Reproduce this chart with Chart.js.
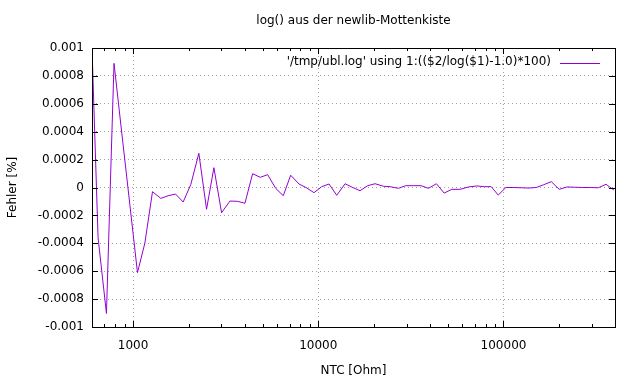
<!DOCTYPE html>
<html lang="de">
<head>
    <meta charset="UTF-8">
    <title>log() aus der newlib-Mottenkiste</title>
    <script src="https://cdn.jsdelivr.net/npm/chart.js"></script>
    <style>
        body { margin: 0; background: #fff; }
        canvas { display: block; }
    </style>
</head>
<body>
<canvas id="chart" width="632" height="378"></canvas>
<script>
const ntcOhm = [600, 647, 718, 789, 869, 960, 1056, 1157, 1273, 1411,
    1546, 1695, 1864, 2051, 2265, 2493, 2731, 3005, 3332, 3650,
    4017, 4420, 4859, 5327, 5886, 6469, 7094, 7866, 8582, 9480,
    10433, 11425, 12578, 13944, 15346, 16806, 18493, 20255, 22458, 24414,
    27063, 29680, 32624, 35914, 39319, 43430, 47808, 52608, 58318, 64696,
    71818, 79152, 85817, 93633, 103040, 113530, 124640, 136850, 150270, 164960,
    181060, 200010, 220140, 242640, 266390, 294190, 325080, 357700, 394200];

const fehlerProzent = [0.001, -0.00036, -0.000903, 0.00089, 0.00039, -0.00012, -0.00061, -0.0004, -0.00003, -0.000078,
    -0.000059, -0.000047, -0.000104, 0.000023, 0.000245, -0.000156, 0.000142, -0.000181, -0.000097, -0.000099,
    -0.000113, 0.000099, 0.000073, 0.000092, -0.000006, -0.000059, 0.000088, 0.000025, 0, -0.000037,
    0.000006, 0.000025, -0.000056, 0.000027, 0, -0.000023, 0.000013, 0.000027, 0.000009, 0.000006,
    -0.000006, 0.000013, 0.000013, 0.000013, -0.000006, 0.000027, -0.00004, -0.000013, -0.000013, 0.000004,
    0.000011, 0.000006, 0.000006, -0.000054, 0, 0, -0.000002, -0.000004, 0, 0.00002,
    0.000042, -0.000013, 0.000004, 0.000002, 0, 0, -0.000002, 0.000023, -0.000018];

const xTicks = [1000, 10000, 100000];
const xMin = 600, xMax = 400000;
const yMin = -0.001, yMax = 0.001, yStep = 0.0002;

const chartTitle = 'log() aus der newlib-Mottenkiste';
const seriesLabel = "'/tmp/ubl.log' using 1:(($2/log($1)-1.0)*100)";
const lineColor = '#9400d3';

Chart.defaults.font.family = 'DejaVu Sans';
Chart.defaults.font.size = 12;
Chart.defaults.color = '#000';

// Titel, Rahmen, Ticks nach innen und Legende wie bei gnuplot
const gnuplotFrame = {
    id: 'gnuplotFrame',
    afterDatasetsDraw(chart) {
        const {ctx, chartArea: a, scales: {x, y}} = chart;
        ctx.save();
        ctx.strokeStyle = '#000';
        ctx.lineWidth = 1;
        ctx.beginPath();
        for (let d = 100; d <= xMax; d *= 10) {
            for (let k = 1; k <= 9; k++) {
                const v = k * d;
                if (v < xMin || v > xMax) continue;
                const px = Math.round(x.getPixelForValue(v)) + 0.5;
                const len = k === 1 ? 6 : 3;
                ctx.moveTo(px, a.bottom); ctx.lineTo(px, a.bottom - len);
                ctx.moveTo(px, a.top); ctx.lineTo(px, a.top + len);
            }
        }
        y.ticks.forEach(t => {
            const py = Math.round(y.getPixelForValue(t.value)) + 0.5;
            ctx.moveTo(a.left, py); ctx.lineTo(a.left + 6, py);
            ctx.moveTo(a.right, py); ctx.lineTo(a.right - 6, py);
        });
        ctx.stroke();
        ctx.strokeRect(Math.round(a.left) + 0.5, Math.round(a.top) + 0.5,
            Math.round(a.right - a.left), Math.round(a.bottom - a.top));

        ctx.font = '12px "DejaVu Sans"';
        ctx.fillStyle = '#000';
        ctx.textBaseline = 'middle';

        // Titel ueber dem Plotbereich
        ctx.textAlign = 'center';
        ctx.fillText(chartTitle, (a.left + a.right) / 2, 21);

        // Legende
        const ly = a.top + 14;
        ctx.textAlign = 'right';
        ctx.fillText(chart.data.datasets[0].label, a.right - 64, ly);
        ctx.strokeStyle = lineColor;
        ctx.beginPath();
        ctx.moveTo(a.right - 55, ly + 1.5);
        ctx.lineTo(a.right - 15, ly + 1.5);
        ctx.stroke();
        ctx.restore();
    }
};

new Chart(document.getElementById('chart'), {
    type: 'line',
    data: {
        datasets: [{
            label: seriesLabel,
            data: ntcOhm.map((v, i) => ({x: v, y: fehlerProzent[i]})),
            borderColor: lineColor,
            borderWidth: 1,
            pointRadius: 0,
            tension: 0,
            fill: false
        }]
    },
    options: {
        responsive: false,
        devicePixelRatio: 1,
        animation: false,
        layout: {padding: {left: 0, right: 17, top: 48, bottom: 0}},
        plugins: {
            legend: {display: false},
            tooltip: {enabled: false},
            title: {display: false}
        },
        scales: {
            x: {
                type: 'logarithmic',
                min: xMin,
                max: xMax,
                afterBuildTicks: s => { s.ticks = xTicks.map(v => ({value: v})); },
                afterFit: s => { s.height = 51; },
                ticks: {
                    padding: 12,
                    autoSkip: false,
                    maxRotation: 0,
                    callback: v => String(v)
                },
                grid: {color: '#a0a0a0', lineWidth: 1, drawTicks: false},
                border: {display: false, dash: [1, 3]},
                title: {display: true, text: 'NTC [Ohm]', padding: {top: 0, bottom: 0}}
            },
            y: {
                min: yMin,
                max: yMax,
                afterFit: s => { s.width = 92; },
                ticks: {
                    stepSize: yStep,
                    padding: 8,
                    callback: v => Math.abs(v) < 1e-12 ? '0' : String(parseFloat(v.toFixed(4)))
                },
                grid: {color: '#a0a0a0', lineWidth: 1, drawTicks: false},
                border: {display: false, dash: [1, 3]},
                title: {display: true, text: 'Fehler [%]', padding: {top: 6, bottom: 0}}
            }
        }
    },
    plugins: [gnuplotFrame]
});
</script>
</body>
</html>
